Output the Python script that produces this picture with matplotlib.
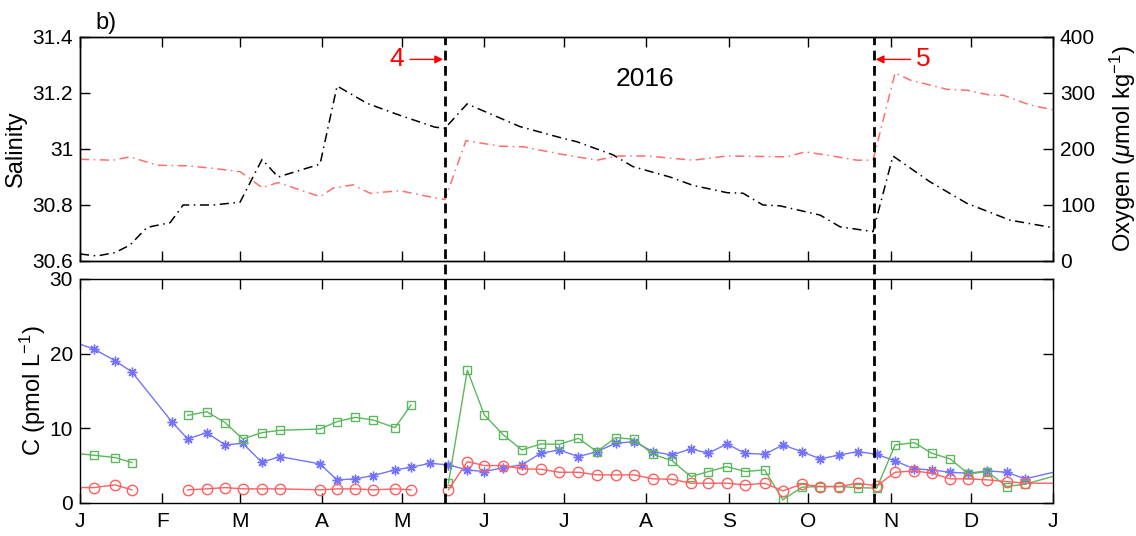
import numpy as np
import matplotlib
matplotlib.use("Agg")
import matplotlib.pyplot as plt
from matplotlib.lines import Line2D
from matplotlib import transforms

plt.rcParams['font.family'] = ['Liberation Sans', 'DejaVu Sans']
plt.rcParams['mathtext.fontset'] = 'custom'
plt.rcParams['mathtext.rm'] = 'Liberation Sans'
plt.rcParams['mathtext.it'] = 'Liberation Sans:italic'

# month starts, 2016 (leap year), in day of year
month_start = [0, 31, 60, 91, 121, 152, 182, 213, 244, 274, 305, 335, 366]
month_lbl = ['J', 'F', 'M', 'A', 'M', 'J', 'J', 'A', 'S', 'O', 'N', 'D', 'J']

# sea-ice / mooring events
event_day = [137.3, 298.5]

# CTD record
sal_day = [0, 6.4, 13.2, 18.8, 25.2, 33.9, 38.8, 50.0, 60.2, 68.5, 74.5, 90.3, 96.7,
           108, 120.4, 133.5, 137.3, 145.6, 165.5, 181.7, 186.9, 200.5, 208, 221.9,
           230.6, 243.4, 249.4, 256.9, 263.3, 278.4, 285.9, 298.3, 305.8, 319.7,
           333.6, 349.8, 366]
salinity = [30.625, 30.618, 30.63, 30.657, 30.72, 30.737, 30.80, 30.80, 30.81, 30.963,
            30.90, 30.946, 31.225, 31.163, 31.12, 31.078, 31.074, 31.161, 31.08,
            31.038, 31.026, 30.979, 30.937, 30.90, 30.87, 30.844, 30.842, 30.80,
            30.797, 30.764, 30.722, 30.705, 30.975, 30.883, 30.806, 30.746, 30.719]

oxy_day = [0, 12.4, 18.8, 29, 40.3, 50, 60.2, 68.5, 74.5, 90.3, 95.2, 102.7, 109.1,
           120.4, 134.3, 137.3, 145.2, 158, 166.7, 180.6, 194.5, 202, 213.3, 230.6,
           243.4, 266, 272.8, 281, 292.3, 298.3, 306.6, 312.3, 326.2, 333.7, 342.4,
           347.3, 357.4, 366]
oxygen = [181.6, 180, 186, 171, 170, 165.5, 159.5, 131, 140, 115, 130, 136, 121,
          125.5, 112, 110, 215, 205, 204, 191, 180, 187.5, 187.5, 180, 187.5, 186,
          195, 189, 180, 180, 336, 323, 306.5, 305, 296, 296, 278.5, 270]

# tracer concentrations (pmol/L), weekly samples
trc_day = [-2, 5.4, 13.2, 19.5, 34.5, 40.5, 47.7, 54.6, 61.2, 68.4, 75.2, 90.3, 96.6,
           103.5, 110.3, 118.5, 124.5, 131.7, 138.6, 145.7, 152.1, 159.3, 166.2,
           173.3, 180.3, 187.5, 194.4, 201.5, 208.4, 215.5, 222.6, 229.8, 236.4,
           243.3, 250.2, 257.5, 264.4, 271.5, 278.4, 285.6, 292.6, 299.7, 306.6,
           313.8, 320.4, 327.3, 334.2, 341.3, 348.6, 355.5, 369]
nan = np.nan
c_blue = [21.5, 20.58, 19.02, 17.54, 10.85, 8.53, 9.38, 7.72, 7.95, 5.40, 6.16, 5.18,
          3.04, 3.17, 3.62, 4.38, 4.73, 5.27, 5.04, 4.38, 4.15, 4.69, 5.04, 6.61,
          7.05, 6.16, 6.83, 7.95, 8.17, 6.83, 6.38, 7.19, 6.61, 7.86, 6.61, 6.47,
          7.72, 6.83, 5.85, 6.38, 6.83, 6.47, 5.58, 4.51, 4.38, 4.06, 3.93, 4.24,
          4.06, 3.17, 4.3]
c_green = [6.6, 6.34, 6.03, 5.36, nan, 11.7, 12.19, 10.71, 8.53, 9.38, 9.69, 9.87,
           10.85, 11.43, 11.07, 10.04, 13.08, nan, 2.6, 17.77, 11.74, 9.06, 7.05,
           7.86, 7.81, 8.62, 6.83, 8.71, 8.48, 6.47, 5.63, 3.48, 4.15, 4.82, 4.15,
           4.38, 0.36, 2.05, 2.14, 2.14, 2.0, 1.92, 7.72, 8.04, 6.61, 5.85, 3.84,
           4.15, 2.14, 2.46, 3.8]
c_red = [2.0, 2.0, 2.37, 1.70, nan, 1.70, 1.83, 2.0, 1.83, 1.83, 1.83, 1.70, 1.83,
         1.83, 1.70, 1.83, 1.70, nan, 1.70, 5.49, 4.96, 4.96, 4.51, 4.46, 4.06, 4.06,
         3.71, 3.71, 3.71, 3.17, 3.13, 2.59, 2.59, 2.59, 2.37, 2.59, 1.56, 2.46, 2.14,
         2.14, 2.59, 2.23, 4.06, 4.24, 3.93, 3.17, 3.17, 3.04, 2.81, 2.59, 2.59]

W, H = 1136, 536
fig = plt.figure(figsize=(W / 100, H / 100), dpi=100)
ax1 = fig.add_axes([80 / W, 1 - 261 / H, 973 / W, 224 / H])
ax2 = fig.add_axes([80 / W, 1 - 502.5 / H, 973 / W, 223.5 / H])
ax1b = ax1.twinx()

dashdot = (0, (6, 3, 1, 3))
ax1.plot(sal_day, salinity, color='black', lw=1.1, linestyle=dashdot)
ax1b.plot(oxy_day, oxygen, color='#ff6e6e', lw=1.1, linestyle=dashdot)

ax1.set_xlim(0, 366)
ax1.set_ylim(30.6, 31.4)
ax1.set_yticks([30.6, 30.8, 31.0, 31.2, 31.4])
ax1.set_yticklabels(['30.6', '30.8', '31', '31.2', '31.4'])
ax1.set_xticks(month_start)
ax1.tick_params(axis='x', labelbottom=False, top=True)
ax1b.set_ylim(0, 400)
ax1b.set_yticks([0, 100, 200, 300, 400])

ax1.set_ylabel('Salinity', fontsize=17)
ax1.yaxis.set_label_coords(-0.0545, 0.5)
ax1b.set_ylabel(r'Oxygen ($\mu$mol kg$^{-1}$)', fontsize=17)
ax1b.yaxis.set_label_coords(1.0565, 0.5)

ax2.plot(trc_day, c_blue, color='#7373ff', lw=1, marker=(8, 2, 0), ms=7,
         mec='#7373ff', mew=1)
ax2.plot(trc_day, c_green, color='#5cb85c', lw=1, marker='s', ms=6,
         mfc='none', mec='#5cb85c', mew=1)
ax2.plot(trc_day, c_red, color='#ff6060', lw=1, marker='o', ms=7.5,
         mfc='none', mec='#ff6060', mew=1)
ax2.set_xlim(0, 366)
ax2.set_ylim(0, 30)
ax2.set_yticks([0, 10, 20, 30])
ax2.set_xticks(month_start)
ax2.set_xticklabels(month_lbl)
ax2.tick_params(top=True, right=True)
ax2.set_ylabel(r'C (pmol L$^{-1}$)', fontsize=17)
ax2.yaxis.set_label_coords(-0.033, 0.5)

for ax in (ax1, ax1b, ax2):
    ax.tick_params(direction='in', length=7, width=1, labelsize=15, pad=5)
    for s in ax.spines.values():
        s.set_linewidth(1)
ax2.tick_params(axis='x', pad=7)

# event lines span both panels
trans = transforms.blended_transform_factory(ax2.transData, fig.transFigure)
y_lo = ax2.get_position().y0
y_hi = ax1.get_position().y1
for d in event_day:
    fig.add_artist(Line2D([d, d], [y_lo, y_hi], transform=trans, color='black',
                          lw=2, linestyle=(0, (3.5, 2)), zorder=5))

arrow = dict(arrowstyle='-|>', color='red', lw=1, shrinkA=2, shrinkB=0,
             mutation_scale=12)
ax1.annotate('4', xy=(136.6, 31.32), xytext=(119.3, 31.32), color='red',
             fontsize=19, ha='center', va='center', arrowprops=arrow)
ax1.annotate('5', xy=(299.3, 31.32), xytext=(317.2, 31.32), color='red',
             fontsize=19, ha='center', va='center', arrowprops=arrow)
ax1.text(0.581, 0.8125, '2016', transform=ax1.transAxes, fontsize=19,
         ha='center', va='center')
fig.text(95 / W, 1 - 23 / H, 'b)', fontsize=17, ha='left', va='center')

fig.savefig('out.png', dpi=100)
